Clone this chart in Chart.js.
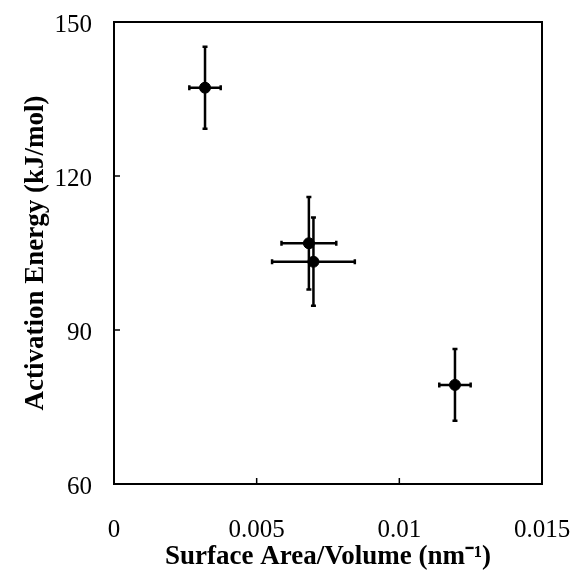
<!DOCTYPE html>
<html><head><meta charset="utf-8">
<script src="https://cdn.jsdelivr.net/npm/chart.js@4"></script>
<style>html,body{margin:0;padding:0;background:#fff}#w{width:573px;height:573px}</style>
</head><body><div id="w"><canvas id="c" width="573" height="573"></canvas></div>
<script>
const xValues = [0.00319, 0.00683, 0.00699, 0.01195];
const yValues = [137.2, 106.9, 103.3, 79.3];
const xErrors = [0.00055, 0.00096, 0.00145, 0.00055];
const yErrors = [8.0, 9.0, 8.6, 7.0];
const xTicks = [0, 0.005, 0.01, 0.015];
const yTicks = [60, 90, 120, 150];
const xTitle = 'Surface Area/Volume (nm\u207B\u00B9)';
const yTitle = 'Activation Energy (kJ/mol)';

const points = xValues.map((x, i) => ({x: x, y: yValues[i], ex: xErrors[i], ey: yErrors[i]}));

const frame = {
  id: 'frame',
  beforeDatasetsDraw(chart) {
    const {ctx, chartArea: a, scales} = chart;
    ctx.save();
    ctx.strokeStyle = '#000';
    ctx.lineWidth = 2;
    ctx.strokeRect(a.left, a.top, a.right - a.left, a.bottom - a.top);
    ctx.lineWidth = 1.5;
    xTicks.slice(1, -1).forEach(v => {
      const px = scales.x.getPixelForValue(v);
      ctx.beginPath(); ctx.moveTo(px, a.bottom); ctx.lineTo(px, a.bottom - 6); ctx.stroke();
    });
    yTicks.slice(1, -1).forEach(v => {
      const py = scales.y.getPixelForValue(v);
      ctx.beginPath(); ctx.moveTo(a.left, py); ctx.lineTo(a.left + 6, py); ctx.stroke();
    });
    ctx.restore();
  },
  afterDatasetsDraw(chart) {
    const {ctx, scales} = chart;
    ctx.save();
    ctx.strokeStyle = '#000';
    ctx.lineWidth = 2.5;
    const cap = 2.5;
    points.forEach(p => {
      const cx = scales.x.getPixelForValue(p.x);
      const cy = scales.y.getPixelForValue(p.y);
      const x1 = scales.x.getPixelForValue(p.x - p.ex);
      const x2 = scales.x.getPixelForValue(p.x + p.ex);
      const y1 = scales.y.getPixelForValue(p.y + p.ey);
      const y2 = scales.y.getPixelForValue(p.y - p.ey);
      ctx.beginPath();
      ctx.moveTo(x1, cy); ctx.lineTo(x2, cy);
      ctx.moveTo(cx, y1); ctx.lineTo(cx, y2);
      ctx.moveTo(x1, cy - cap); ctx.lineTo(x1, cy + cap);
      ctx.moveTo(x2, cy - cap); ctx.lineTo(x2, cy + cap);
      ctx.moveTo(cx - cap, y1); ctx.lineTo(cx + cap, y1);
      ctx.moveTo(cx - cap, y2); ctx.lineTo(cx + cap, y2);
      ctx.stroke();
    });
    ctx.restore();
  }
};

new Chart(document.getElementById('c'), {
  type: 'scatter',
  data: { datasets: [{ data: points, backgroundColor: '#000', borderColor: '#000', pointRadius: 5.5, pointHoverRadius: 5.5 }] },
  options: {
    responsive: false, animation: false,
    layout: { padding: { left: 20, right: 31, top: 22, bottom: 0 } },
    plugins: { legend: { display: false }, tooltip: { enabled: false } },
    scales: {
      x: {
        type: 'linear', min: 0, max: 0.015,
        afterBuildTicks: s => { s.ticks = xTicks.map(v => ({value: v})); },
        afterFit: s => { s.height = 89; s.paddingLeft = 0; s.paddingRight = 0; },
        grid: { display: false, drawTicks: false },
        border: { display: false },
        ticks: { color: '#000', font: { family: 'Liberation Serif', size: 25 }, padding: 31, maxRotation: 0,
                 callback: v => String(v) },
        title: { display: true, text: xTitle, color: '#000', font: { family: 'Liberation Serif', size: 27, weight: 'bold' }, padding: { top: 0, bottom: 0 } }
      },
      y: {
        type: 'linear', min: 60, max: 150,
        afterBuildTicks: s => { s.ticks = yTicks.map(v => ({value: v})); },
        afterFit: s => { s.width = 94; s.paddingTop = 0; s.paddingBottom = 0; },
        grid: { display: false, drawTicks: false },
        border: { display: false },
        ticks: { color: '#000', font: { family: 'Liberation Serif', size: 25 }, padding: 22, labelOffset: 3 },
        title: { display: true, text: yTitle, color: '#000', font: { family: 'Liberation Serif', size: 27, weight: 'bold' }, padding: { top: 0, bottom: 0 } }
      }
    }
  },
  plugins: [frame]
});
</script></body></html>
